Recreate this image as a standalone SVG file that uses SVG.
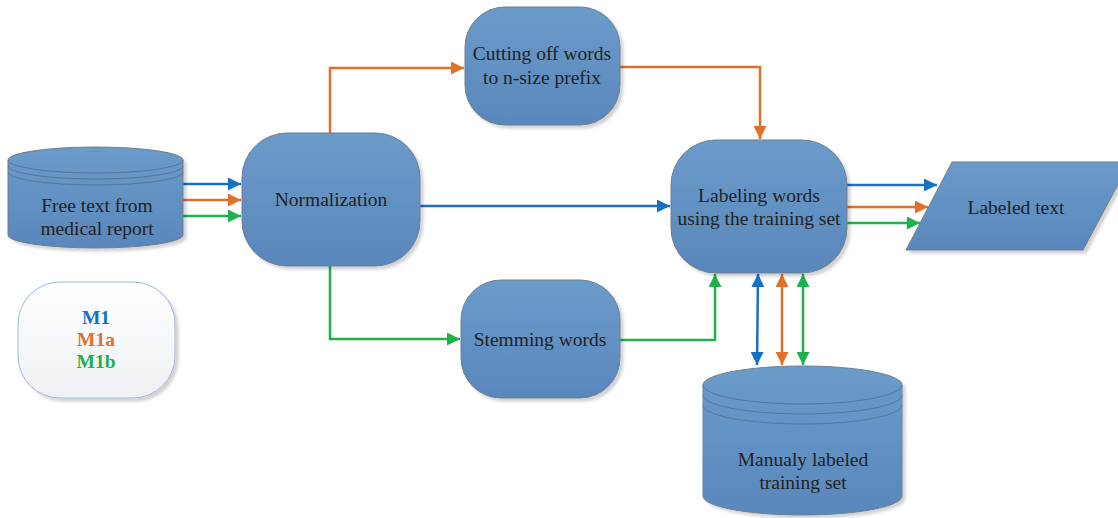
<svg xmlns="http://www.w3.org/2000/svg" width="1118" height="518" viewBox="0 0 1118 518">
<style>
.node{fill:url(#g);stroke:#6f7f90;stroke-width:1;filter:url(#sh)}
.line{fill:none;stroke:#4f6f92;stroke-width:0.8}
.t{font-family:'Liberation Serif','Times New Roman','DejaVu Serif',serif;font-size:19.5px;fill:#222;text-anchor:middle}
.lg{font-family:'Liberation Serif','Times New Roman','DejaVu Serif',serif;font-size:19.5px;font-weight:bold;text-anchor:middle}
.b{stroke:#1670c3;stroke-width:2.5;fill:none}
.o{stroke:#e0702a;stroke-width:2.5;fill:none}
.gr{stroke:#1eb24e;stroke-width:2.5;fill:none}
</style>
<defs>
<linearGradient id="g" x1="0" y1="0" x2="0" y2="1"><stop offset="0" stop-color="#6b9bc9"/><stop offset="1" stop-color="#5987bc"/></linearGradient>
<linearGradient id="lgd" x1="0" y1="0" x2="0" y2="1"><stop offset="0" stop-color="#ffffff"/><stop offset="1" stop-color="#eef0f3"/></linearGradient>
<filter id="sh" x="-10%" y="-10%" width="125%" height="125%"><feDropShadow dx="3" dy="3" stdDeviation="1.5" flood-color="#000" flood-opacity="0.18"/></filter>
<marker id="mb" viewBox="0 0 10 10" refX="10" refY="5" markerWidth="6.4" markerHeight="5.2" orient="auto-start-reverse" markerUnits="strokeWidth"><path d="M0,0L10,5L0,10z" fill="#1670c3"/></marker>
<marker id="mo" viewBox="0 0 10 10" refX="10" refY="5" markerWidth="6.4" markerHeight="5.2" orient="auto-start-reverse" markerUnits="strokeWidth"><path d="M0,0L10,5L0,10z" fill="#e0702a"/></marker>
<marker id="mg" viewBox="0 0 10 10" refX="10" refY="5" markerWidth="6.4" markerHeight="5.2" orient="auto-start-reverse" markerUnits="strokeWidth"><path d="M0,0L10,5L0,10z" fill="#1eb24e"/></marker>
</defs>
<rect width="1118" height="518" fill="#fff"/>

<g id="connectors">
<path class="b" d="M183,184H241" marker-end="url(#mb)"/>
<path class="o" d="M183,200H241" marker-end="url(#mo)"/>
<path class="gr" d="M183,216H241" marker-end="url(#mg)"/>
<path class="o" d="M330,133V68H464" marker-end="url(#mo)"/>
<path class="o" d="M620,67H760V139" marker-end="url(#mo)"/>
<path class="b" d="M420,206H670" marker-end="url(#mb)"/>
<path class="gr" d="M330,266V339H460" marker-end="url(#mg)"/>
<path class="gr" d="M620,340H715V274" marker-end="url(#mg)"/>
<path class="b" d="M847,185H937" marker-end="url(#mb)"/>
<path class="o" d="M847,207H928" marker-end="url(#mo)"/>
<path class="gr" d="M847,223H920" marker-end="url(#mg)"/>
<path class="b" d="M758,274L757,365" marker-start="url(#mb)" marker-end="url(#mb)"/>
<path class="o" d="M782,274V365" marker-start="url(#mo)" marker-end="url(#mo)"/>
<path class="gr" d="M803,274V365" marker-start="url(#mg)" marker-end="url(#mg)"/>
</g>

<g id="free-text">
<path class="node" d="M8,160A87.5,13 0 0 1 183,160V235A87.5,13 0 0 1 8,235Z"/>
<path class="line" d="M8,160A87.5,13 0 0 0 183,160M8,166A87.5,13 0 0 0 183,166M8,172A87.5,13 0 0 0 183,172"/>
<text class="t" x="97" y="212">Free text from</text>
<text class="t" x="97" y="235">medical report</text>
</g>

<g id="normalization">
<rect class="node" x="242" y="133" width="178" height="133" rx="45" ry="45"/>
<text class="t" x="331" y="206">Normalization</text>
</g>

<g id="cutting">
<rect class="node" x="465" y="7" width="155" height="118" rx="40" ry="40"/>
<text class="t" x="542" y="60">Cutting off words</text>
<text class="t" x="542" y="84">to n-size prefix</text>
</g>

<g id="stemming">
<rect class="node" x="461" y="280" width="159" height="118" rx="40" ry="40"/>
<text class="t" x="540" y="346">Stemming words</text>
</g>

<g id="labeling">
<rect class="node" x="671" y="140" width="176" height="133" rx="45" ry="45"/>
<text class="t" x="759" y="202">Labeling words</text>
<text class="t" x="759" y="225">using the training set</text>
</g>

<g id="labeled-text">
<path class="node" d="M952,162H1130L1083,250H906Z"/>
<text class="t" x="1016" y="214">Labeled text</text>
</g>

<g id="training-set">
<path class="node" d="M703,385A99.5,19 0 0 1 902,385V496A99.5,19 0 0 1 703,496Z"/>
<path class="line" d="M703,385A99.5,19 0 0 0 902,385M703,395A99.5,19 0 0 0 902,395M703,405A99.5,19 0 0 0 902,405"/>
<text class="t" x="803" y="466">Manualy labeled</text>
<text class="t" x="803" y="489">training set</text>
</g>

<g id="legend">
<rect x="18" y="282" width="157" height="116" rx="42" ry="42" fill="url(#lgd)" stroke="#9dbbdc" stroke-width="1" filter="url(#sh)"/>
<text class="lg" x="96" y="324" fill="#1670c3">M1</text>
<text class="lg" x="96" y="346" fill="#e0702a">M1a</text>
<text class="lg" x="96" y="368" fill="#1eb24e">M1b</text>
</g>
</svg>
